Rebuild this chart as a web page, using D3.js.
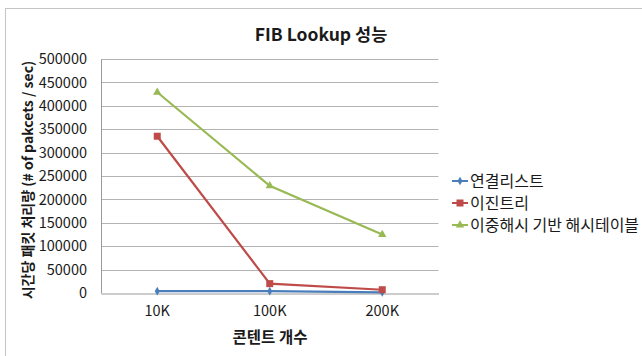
<!DOCTYPE html>
<html>
<head>
<meta charset="utf-8">
<script src="https://cdn.jsdelivr.net/npm/d3@7"></script>
<style>
  body { margin: 0; background: #fff; }
  text { font-family: "Noto Sans CJK KR", "Noto Sans", sans-serif; fill: #1a1a1a; }
</style>
</head>
<body>
<script>
// chart data
var categories = ["10K", "100K", "200K"]
var seriesNames = ["연결리스트", "이진트리", "이중해시 기반 해시테이블"]
var linkedList = [4000, 4000, 1500]
var binaryTree = [335000, 20000, 7000]
var doubleHash = [429000, 229000, 125000]
var yTicks = [0, 50000, 100000, 150000, 200000, 250000, 300000, 350000, 400000, 450000, 500000]

var series = [
	{ name: seriesNames[0], values: linkedList, color: "#4a7ebb", marker: "diamond" },
	{ name: seriesNames[1], values: binaryTree, color: "#be4b48", marker: "square" },
	{ name: seriesNames[2], values: doubleHash, color: "#98b954", marker: "triangle" }
]

var width = 642, height = 356
var plot = { left: 101, right: 438.5, top: 59, bottom: 293 }

var svg = d3.select("body").append("svg")
	.attr("width", width)
	.attr("height", height)

// outer chart frame (only top/left visible in the crop)
svg.append("rect")
	.attr("x", 5.5).attr("y", 8.5)
	.attr("width", 700).attr("height", 400)
	.attr("fill", "none").attr("stroke", "#c4c4c4")

var x = d3.scaleBand().domain(categories).range([plot.left, plot.right])
var y = d3.scaleLinear().domain([0, 500000]).range([plot.bottom, plot.top])

// gridlines
svg.append("g")
	.selectAll("line")
	.data(yTicks.filter(function(d) { return d > 0 }))
	.enter().append("line")
	.attr("x1", plot.left).attr("x2", plot.right)
	.attr("y1", function(d) { return Math.round(y(d)) + 0.5 })
	.attr("y2", function(d) { return Math.round(y(d)) + 0.5 })
	.attr("stroke", "#b3b3b3")

// axes
var yAxis = svg.append("g")
	.attr("transform", "translate(" + plot.left + ",0)")
	.call(d3.axisLeft(y).tickValues(yTicks).tickSize(0).tickPadding(14).tickFormat(d3.format("d")))
yAxis.select(".domain").attr("stroke", "#9a9a9a")
yAxis.selectAll("text").style("font-size", "14.5px").attr("fill", "#1a1a1a")

var xAxis = svg.append("g")
	.attr("transform", "translate(0," + (Math.round(plot.bottom) + 0.5) + ")")
	.call(d3.axisBottom(x).tickSize(0).tickPadding(12))
xAxis.select(".domain").attr("stroke", "#9a9a9a")
xAxis.selectAll("text").style("font-size", "14.5px").attr("fill", "#1a1a1a")

// titles
svg.append("text")
	.attr("x", 321).attr("y", 41)
	.attr("text-anchor", "middle")
	.style("font-size", "17.5px").style("font-weight", "bold")
	.text("FIB Lookup 성능")

svg.append("text")
	.attr("x", 270).attr("y", 343)
	.attr("text-anchor", "middle")
	.style("font-size", "15.5px").style("font-weight", "bold")
	.text("콘텐트 개수")

svg.append("text")
	.attr("transform", "translate(33,180) rotate(-90)")
	.attr("text-anchor", "middle")
	.style("font-size", "14px").style("font-weight", "bold")
	.text("시간당 패킷 처리량 (# of pakcets / sec)")

function cx(i) { return x(categories[i]) + x.bandwidth() / 2 }

function drawMarker(g, type, px, py, color) {
	if (type === "diamond") {
		g.append("path").attr("d", d3.symbol(d3.symbolDiamond, 22)()).attr("transform", "translate(" + px + "," + py + ")").attr("fill", color)
	} else if (type === "square") {
		g.append("rect").attr("x", px - 3.5).attr("y", py - 3.5).attr("width", 7).attr("height", 7).attr("fill", color)
	} else {
		g.append("path").attr("d", d3.symbol(d3.symbolTriangle, 30)()).attr("transform", "translate(" + px + "," + py + ")").attr("fill", color)
	}
}

var line = d3.line()
	.x(function(d, i) { return cx(i) })
	.y(function(d) { return y(d) })

series.forEach(function(s) {
	var g = svg.append("g")
	g.append("path")
		.attr("d", line(s.values))
		.attr("fill", "none")
		.attr("stroke", s.color)
		.attr("stroke-width", 2.2)
	s.values.forEach(function(v, i) {
		drawMarker(g, s.marker, cx(i), y(v), s.color)
	})
})

// legend
var legend = svg.append("g")
series.forEach(function(s, i) {
	var ly = 181 + i * 22
	legend.append("line")
		.attr("x1", 452).attr("x2", 468)
		.attr("y1", ly).attr("y2", ly)
		.attr("stroke", s.color).attr("stroke-width", 2)
	drawMarker(legend, s.marker, 460, ly, s.color)
	legend.append("text")
		.attr("x", 470).attr("y", ly)
		.attr("dy", "0.35em")
		.style("font-size", "16px")
		.text(s.name)
})
</script>
</body>
</html>
